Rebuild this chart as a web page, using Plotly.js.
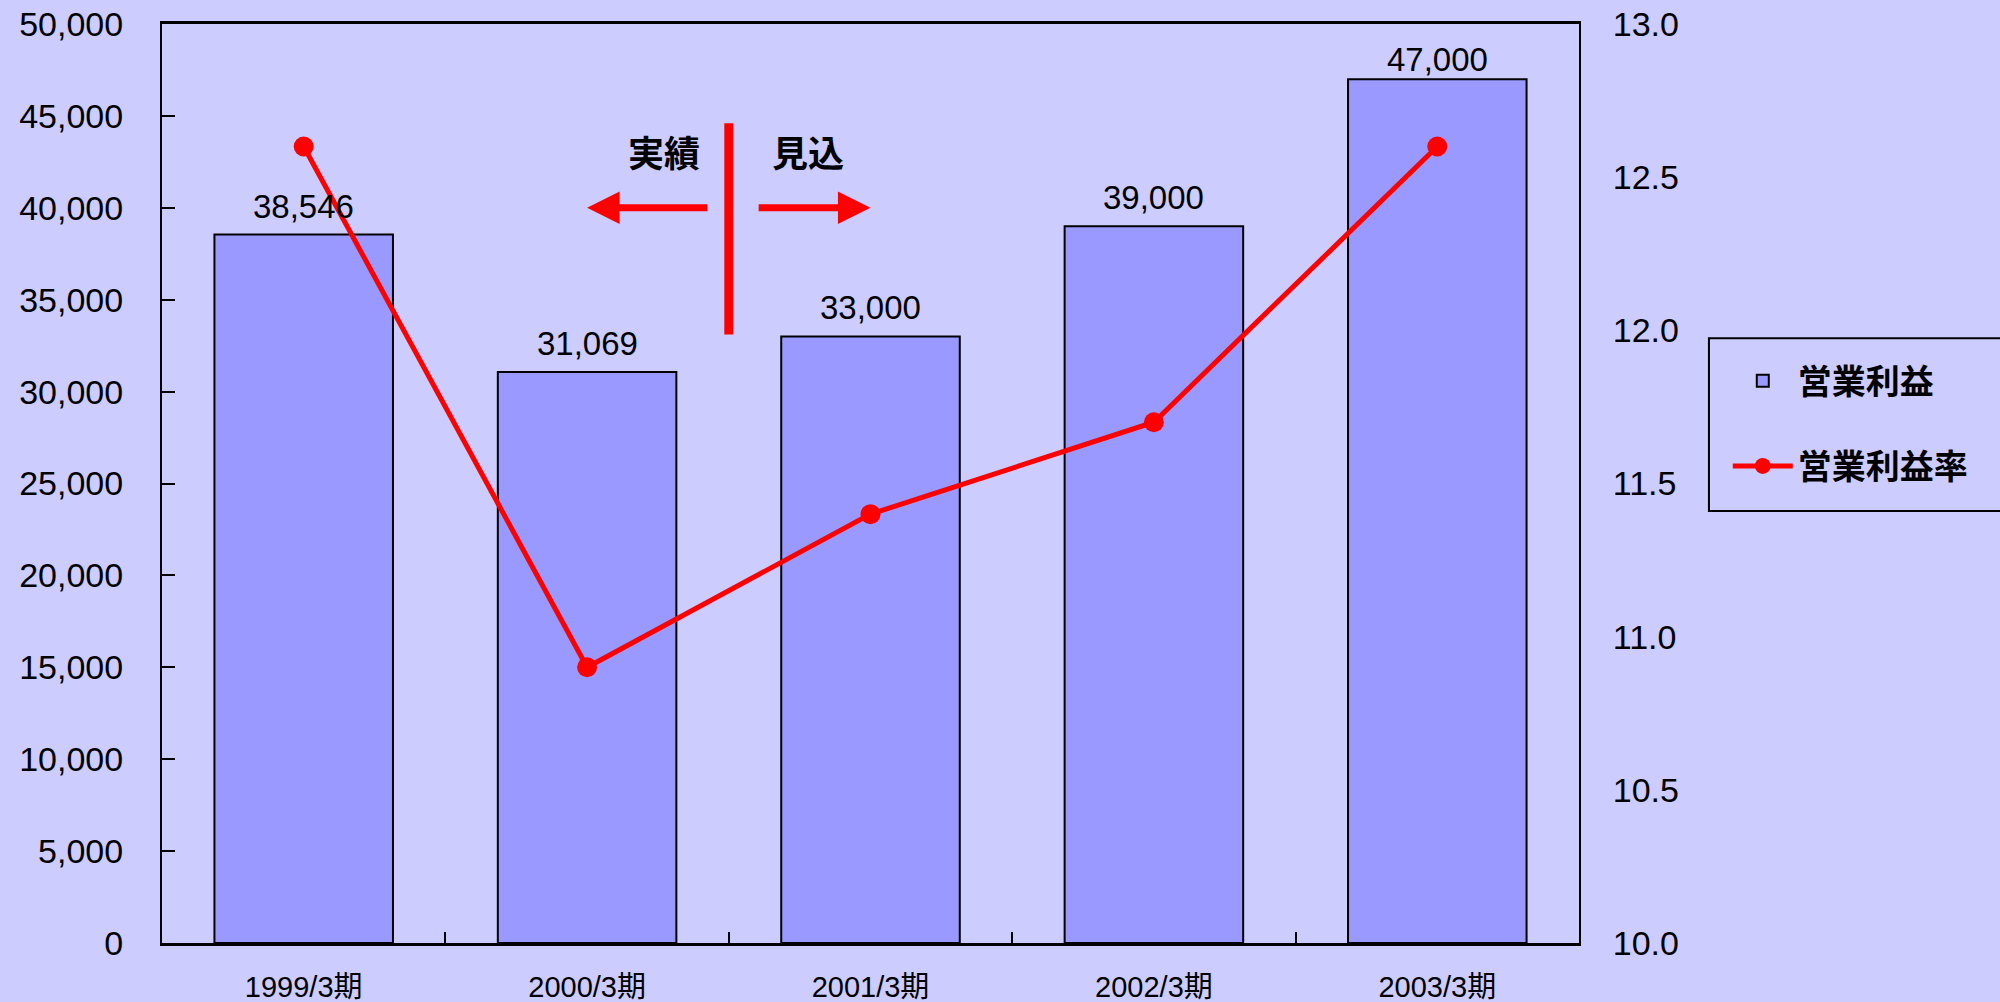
<!DOCTYPE html>
<html>
<head>
<meta charset="utf-8">
<script src="https://cdn.plot.ly/plotly-3.0.1.min.js"></script>
<style>html,body{margin:0;padding:0;background:#CCCCFF;}#chart{width:2000px;height:1002px;}</style>
</head>
<body>
<div id="chart"></div>
<script>
const categories = ['1999/3期', '2000/3期', '2001/3期', '2002/3期', '2003/3期'];
const operatingProfit = [38546, 31069, 33000, 39000, 47000];
const operatingMargin = [12.6, 10.9, 11.4, 11.7, 12.6];
const profitLabels = ['38,546', '31,069', '33,000', '39,000', '47,000'];
const leftTicks = [0, 5000, 10000, 15000, 20000, 25000, 30000, 35000, 40000, 45000, 50000];
const rightTicks = [10.0, 10.5, 11.0, 11.5, 12.0, 12.5, 13.0];
const seriesNames = ['営業利益', '営業利益率'];
const periodLabels = ['実績', '見込'];

const FONT = 'Liberation Sans, Arial, Noto Sans CJK JP, sans-serif';
const CJK = 'Noto Sans CJK JP, sans-serif';
const LABEL_CAP = 46500; // labels are kept inside the plot frame

const traces = [
  {
    type: 'bar', x: categories, y: operatingProfit, name: seriesNames[0],
    marker: {color: '#9999FF', line: {color: '#000000', width: 2}},
    width: 0.63,
    legendgroup: 'a', hoverinfo: 'x+y'
  },
  {
    type: 'scatter', mode: 'lines+markers', x: categories, y: operatingMargin, yaxis: 'y2',
    name: seriesNames[1],
    line: {color: '#FF0000', width: 5},
    marker: {color: '#FF0000', size: 20},
    legendgroup: 'b', cliponaxis: false
  }
];

const labelAnnotations = categories.map((c, i) => ({
  xref: 'x', yref: 'y', x: c, y: Math.min(operatingProfit[i], LABEL_CAP), text: profitLabels[i],
  showarrow: false, yanchor: 'bottom', yshift: 8,
  font: {family: FONT, size: 33, color: '#000000'}
}));

const layout = {
  width: 2000, height: 1002,
  paper_bgcolor: '#CCCCFF', plot_bgcolor: '#CCCCFF',
  margin: {l: 162, r: 421, t: 24, b: 59},
  font: {family: FONT, color: '#000000'},
  separators: '.,',
  showlegend: true,
  legend: {
    x: 1.105, y: 0.643, xanchor: 'left', yanchor: 'top',
    bgcolor: 'rgba(0,0,0,0)', borderwidth: 0,
    font: {family: CJK, size: 34, color: '#000000', weight: 'bold'},
    traceorder: 'grouped', tracegroupgap: 38, itemwidth: 60
  },
  xaxis: {
    type: 'category', showline: true, linecolor: '#000000', linewidth: 3, mirror: true,
    ticks: 'inside', ticklen: 11, tickwidth: 2, tickcolor: '#000000', tickson: 'boundaries',
    tickfont: {family: FONT, size: 29, color: '#000000'},
    ticklabelstandoff: 16, showgrid: false, zeroline: false, fixedrange: true
  },
  yaxis: {
    range: [0, 50000], tickvals: leftTicks, tickformat: ',d',
    showline: true, linecolor: '#000000', linewidth: 2,
    ticks: 'inside', ticklen: 13, tickwidth: 2, tickcolor: '#000000',
    tickfont: {family: FONT, size: 34, color: '#000000'},
    ticklabelstandoff: 30, showgrid: false, zeroline: false
  },
  yaxis2: {
    overlaying: 'y', side: 'right', range: [10, 13], tickvals: rightTicks, tickformat: '.1f',
    showline: true, linecolor: '#000000', linewidth: 2, ticks: '',
    tickfont: {family: FONT, size: 34, color: '#000000'},
    ticklabelstandoff: 25, showgrid: false, zeroline: false
  },
  shapes: [
    {type: 'line', xref: 'x', yref: 'y', x0: 1.5, x1: 1.5, y0: 33100, y1: 44600,
     line: {color: '#FF0000', width: 9}},
    {type: 'rect', xref: 'paper', yref: 'paper', x0: 1.0917, x1: 1.35, y0: 0.470, y1: 0.658,
     line: {color: '#000000', width: 2}, fillcolor: 'rgba(0,0,0,0)'}
  ],
  annotations: labelAnnotations.concat([
    {xref: 'x', yref: 'y', x: 1.27, y: 43100, text: periodLabels[0], showarrow: false,
     font: {family: CJK, size: 36, color: '#000000', weight: 'bold'}},
    {xref: 'x', yref: 'y', x: 1.78, y: 43100, text: periodLabels[1], showarrow: false,
     font: {family: CJK, size: 36, color: '#000000', weight: 'bold'}},
    {xref: 'x', yref: 'y', axref: 'x', ayref: 'y', x: 1.0, y: 40000, ax: 1.43, ay: 40000,
     text: '', showarrow: true, arrowhead: 2, arrowsize: 0.93, arrowwidth: 7, arrowcolor: '#FF0000'},
    {xref: 'x', yref: 'y', axref: 'x', ayref: 'y', x: 2.0, y: 40000, ax: 1.6, ay: 40000,
     text: '', showarrow: true, arrowhead: 2, arrowsize: 0.93, arrowwidth: 7, arrowcolor: '#FF0000'}
  ])
};

Plotly.newPlot('chart', traces, layout, {displayModeBar: false, staticPlot: true});
</script>
</body>
</html>
